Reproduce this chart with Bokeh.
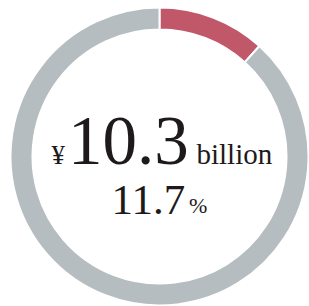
import numpy as np
from bokeh.plotting import figure
from bokeh.models import Range1d, ColumnDataSource
from bokeh.core.properties import value
from bokeh.embed import file_html
from bokeh.resources import INLINE

# Data
segments = ["Segment", "Other"]
shares = [11.7, 88.3]          # percent
colors = ["#C05869", "#B5BDC1"]
amount_label = "10.3"
currency_label = "¥"
unit_label = "billion"
pct_label = "11.7"
pct_sign = "%"

frac = np.array(shares) / sum(shares)
ends = np.cumsum(frac) * 2 * np.pi
starts = ends - frac * 2 * np.pi
src = ColumnDataSource(dict(
    seg=segments,
    start=np.pi / 2 - starts,
    end=np.pi / 2 - ends,
    color=colors,
))

p = figure(width=309, height=306, output_backend="svg", toolbar_location=None,
           x_range=Range1d(-159, 150), y_range=Range1d(-150, 156),
           min_border=0)
p.axis.visible = False
p.grid.visible = False
p.outline_line_color = None
p.background_fill_color = "white"

p.annular_wedge(x=0, y=0, inner_radius=127, outer_radius=149,
                start_angle="start", end_angle="end", direction="clock",
                fill_color="color", line_color="white", line_width=2,
                source=src)

font = value("Liberation Serif")
tc = "#1E1A1B"
p.text(x=[-108], y=[2], text=[currency_label], text_font=font,
       text_font_size="27px", text_color=tc, text_baseline="middle")
p.text(x=[-91.5], y=[16], text=[amount_label], text_font=font,
       text_font_size="69px", text_color=tc, text_baseline="middle")
p.text(x=[37], y=[3], text=[unit_label], text_font=font,
       text_font_size="29px", text_color=tc, text_baseline="middle")
p.text(x=[-48], y=[-43.5], text=[pct_label], text_font=font,
       text_font_size="43px", text_color=tc, text_baseline="middle")
p.text(x=[29.5], y=[-49], text=[pct_sign], text_font=font,
       text_font_size="22px", text_color=tc, text_baseline="middle")

open("out.html", "w").write(file_html(p, INLINE))
